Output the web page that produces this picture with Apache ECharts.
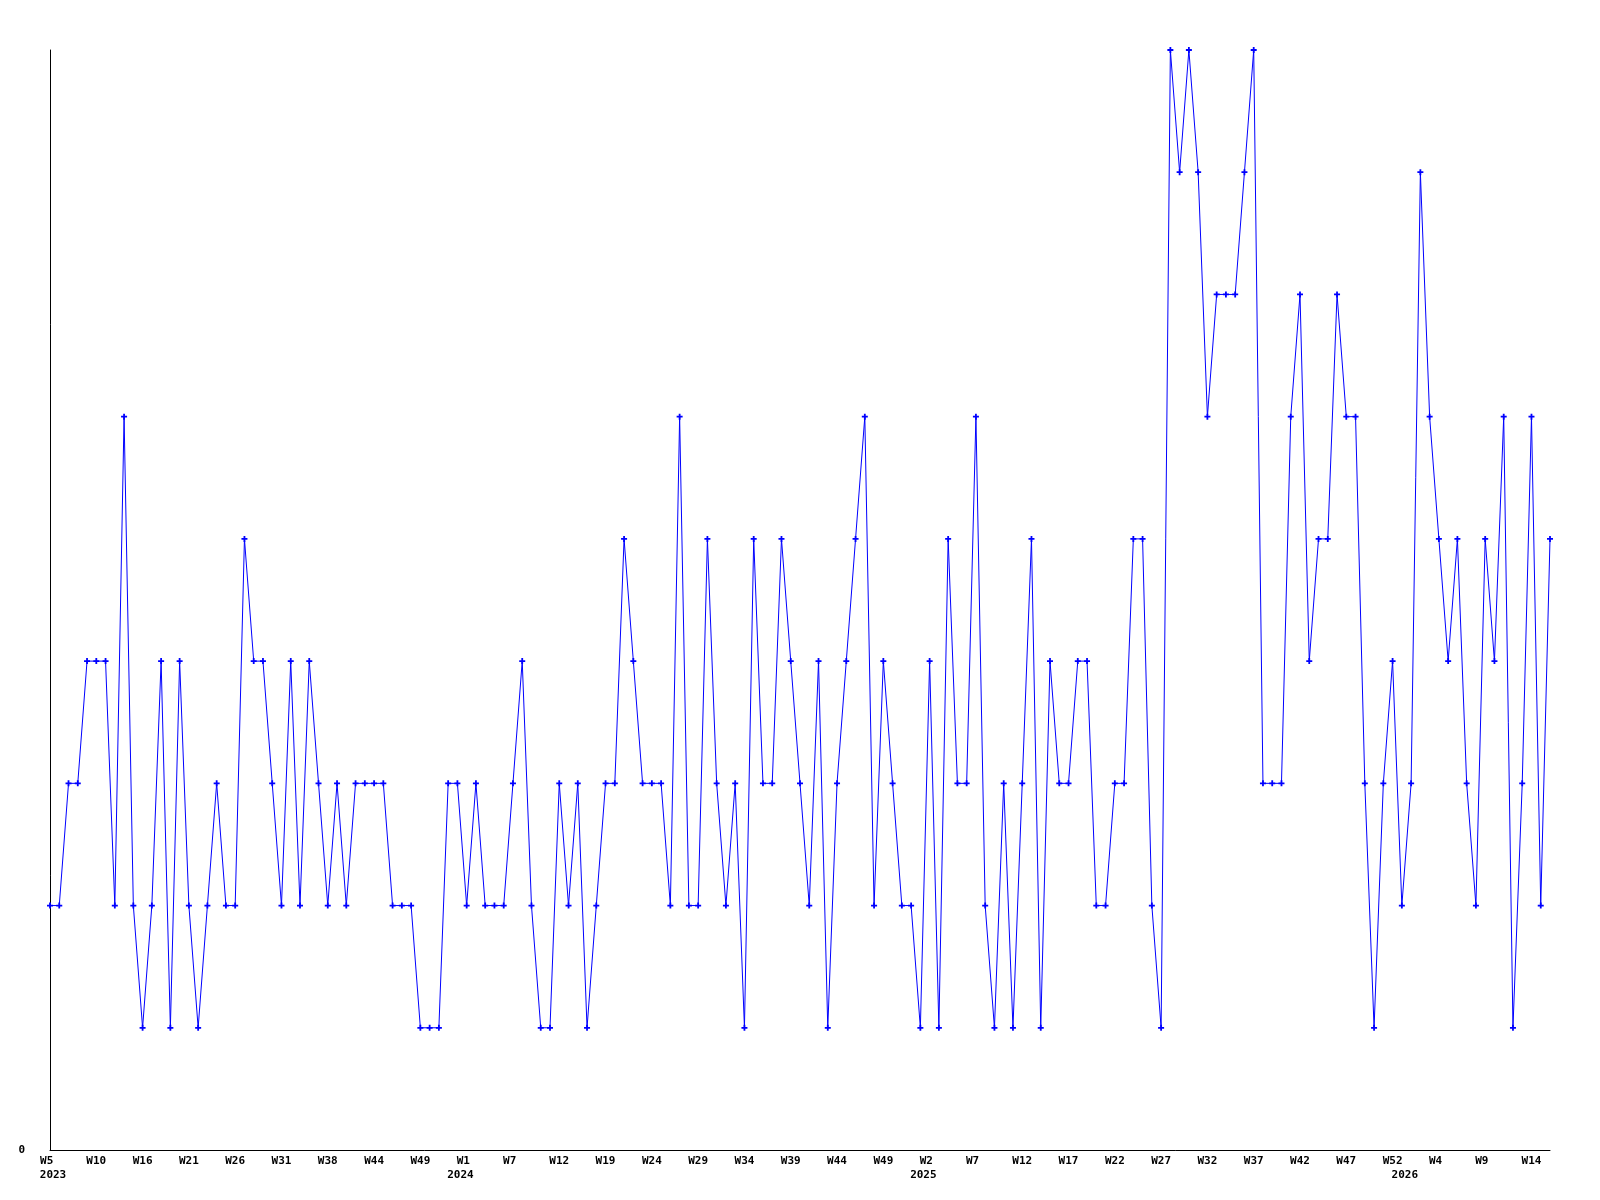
<!DOCTYPE html>
<html><head><meta charset="utf-8">
<script src="https://cdn.jsdelivr.net/npm/echarts@6/dist/echarts.min.js"></script>
<style>html,body{margin:0;padding:0;background:#fff}#c{width:1600px;height:1200px}</style>
</head><body><div id="c"></div>
<script>
const categories = [
 "2023-W05","2023-W06","2023-W07","2023-W08","2023-W09","2023-W10","2023-W11","2023-W12","2023-W13","2023-W14",
 "2023-W16","2023-W17","2023-W18","2023-W19","2023-W20","2023-W21","2023-W22","2023-W23","2023-W24","2023-W25",
 "2023-W26","2023-W27","2023-W28","2023-W29","2023-W30","2023-W31","2023-W32","2023-W33","2023-W35","2023-W36",
 "2023-W38","2023-W39","2023-W40","2023-W41","2023-W43","2023-W44","2023-W45","2023-W46","2023-W47","2023-W48",
 "2023-W49","2023-W50","2023-W51","2023-W52",
 "2024-W00","2024-W01","2024-W02","2024-W03","2024-W04","2024-W06","2024-W07","2024-W08","2024-W09","2024-W10",
 "2024-W11","2024-W12","2024-W13","2024-W14","2024-W16","2024-W17","2024-W19","2024-W20","2024-W21","2024-W22",
 "2024-W23","2024-W24","2024-W25","2024-W26","2024-W27","2024-W28","2024-W29","2024-W30","2024-W31","2024-W32",
 "2024-W33","2024-W34","2024-W35","2024-W36","2024-W37","2024-W38","2024-W39","2024-W40","2024-W41","2024-W42",
 "2024-W43","2024-W44","2024-W45","2024-W46","2024-W47","2024-W48","2024-W49","2024-W50","2024-W51","2024-W52",
 "2025-W01","2025-W02","2025-W03","2025-W04","2025-W05","2025-W06","2025-W07","2025-W08","2025-W09","2025-W10",
 "2025-W11","2025-W12","2025-W13","2025-W14","2025-W15","2025-W16","2025-W17","2025-W18","2025-W19","2025-W20",
 "2025-W21","2025-W22","2025-W23","2025-W24","2025-W25","2025-W26","2025-W27","2025-W28","2025-W29","2025-W30",
 "2025-W31","2025-W32","2025-W33","2025-W34","2025-W35","2025-W36","2025-W37","2025-W38","2025-W39","2025-W40",
 "2025-W41","2025-W42","2025-W43","2025-W44","2025-W45","2025-W46","2025-W47","2025-W48","2025-W49","2025-W50",
 "2025-W51","2025-W52",
 "2026-W00","2026-W01","2026-W02","2026-W03","2026-W04","2026-W05","2026-W06","2026-W07","2026-W08","2026-W09",
 "2026-W10","2026-W11","2026-W12","2026-W13","2026-W14","2026-W15","2026-W16"
];
const values = [
 2,2,3,3,4,4,4,2,6,2,
 1,2,4,1,4,2,1,2,3,2,
 2,5,4,4,3,2,4,2,4,3,
 2,3,2,3,3,3,3,2,2,2,
 1,1,1,3,3,2,3,2,2,2,
 3,4,2,1,1,3,2,3,1,2,
 3,3,5,4,3,3,3,2,6,2,
 2,5,3,2,3,1,5,3,3,5,
 4,3,2,4,1,3,4,5,6,2,
 4,3,2,2,1,4,1,5,3,3,
 6,2,1,3,1,3,5,1,4,3,
 3,4,4,2,2,3,3,5,5,2,
 1,9,8,9,8,6,7,7,7,8,
 9,3,3,3,6,7,4,5,5,7,
 6,6,3,1,3,4,2,3,8,6,
 5,4,5,3,2,5,4,6,1,3,
 6,2,5
];
const yTickLabels = ["0"];

function weekNum(c){ return parseInt(c.split("-W")[1], 10); }
function weekLabel(c){ const n = weekNum(c); return "W" + n + (n < 10 ? " " : ""); }
function yearOf(c){ return c.split("-W")[0]; }

const font = {fontFamily: "DejaVu Sans Mono", fontWeight: "bold", fontSize: 11, color: "#000"};
const chart = echarts.init(document.getElementById("c"), null, {renderer: "canvas"});
chart.setOption({
  animation: false,
  backgroundColor: "#fff",
  grid: {left: 50, right: 50, top: 50, bottom: 50, containLabel: false},
  xAxis: [
    {type: "category", data: categories, boundaryGap: false, position: "bottom",
     axisLine: {show: true, lineStyle: {color: "#000", width: 1}},
     axisTick: {show: false}, splitLine: {show: false},
     axisLabel: Object.assign({interval: 4, margin: 6, formatter: v => weekLabel(v)}, font)},
    {type: "category", data: categories, boundaryGap: false, position: "bottom",
     axisLine: {show: false}, axisTick: {show: false}, splitLine: {show: false},
     axisLabel: Object.assign({
       interval: (i) => i === 0 || yearOf(categories[i]) !== yearOf(categories[i - 1]),
       margin: 20, padding: [0, 0, 0, 6], formatter: v => yearOf(v)}, font)}
  ],
  yAxis: {type: "value", min: 0, max: 9, interval: 9,
    axisLine: {show: true, lineStyle: {color: "#000", width: 1}},
    axisTick: {show: false}, splitLine: {show: false},
    axisLabel: Object.assign({margin: 25, formatter: v => v === 0 ? yTickLabels[0] : ""}, font)},
  series: [{
    type: "line", xAxisIndex: 0, data: values,
    symbol: "path://M1.75,0L3.25,0L3.25,1.75L5,1.75L5,3.25L3.25,3.25L3.25,5L1.75,5L1.75,3.25L0,3.25L0,1.75L1.75,1.75Z",
    symbolSize: 6, showAllSymbol: true,
    lineStyle: {color: "#0000ff", width: 1},
    itemStyle: {color: "#0000ff"}
  }]
});
</script></body></html>
